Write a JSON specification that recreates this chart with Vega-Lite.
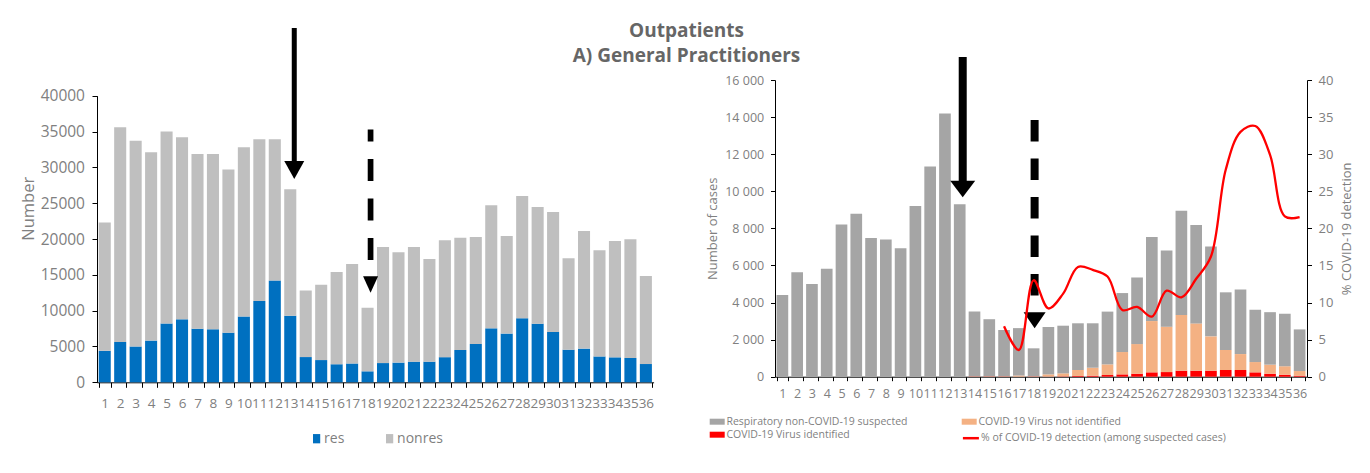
{
  "$schema": "https://vega.github.io/schema/vega-lite/v6.json",
  "padding": {"left": 20, "top": 22, "right": 5, "bottom": 5},
  "background": "white",
  "bounds": "flush",
  "spacing": 121,
  "title": {"text": ["Outpatients", "A) General Practitioners"], "fontSize": 19, "font": "Open Sans", "fontWeight": "bold", "color": "#666666", "lineHeight": 25, "offset": -41, "anchor": "middle"},
  "resolve": {"scale": {"color": "independent", "stroke": "independent"}, "legend": {"color": "independent", "stroke": "independent"}},
  "datasets": {
    "weeks": [
      {"week": 1, "res": 4400, "nonres": 17900, "identified": 0, "notIdentified": 0, "suspected": 4400},
      {"week": 2, "res": 5630, "nonres": 29970, "identified": 0, "notIdentified": 0, "suspected": 5630},
      {"week": 3, "res": 5000, "nonres": 28700, "identified": 0, "notIdentified": 0, "suspected": 5000},
      {"week": 4, "res": 5820, "nonres": 26280, "identified": 0, "notIdentified": 0, "suspected": 5820},
      {"week": 5, "res": 8210, "nonres": 26790, "identified": 0, "notIdentified": 0, "suspected": 8210},
      {"week": 6, "res": 8790, "nonres": 25410, "identified": 0, "notIdentified": 0, "suspected": 8790},
      {"week": 7, "res": 7480, "nonres": 24370, "identified": 0, "notIdentified": 0, "suspected": 7480},
      {"week": 8, "res": 7400, "nonres": 24450, "identified": 0, "notIdentified": 0, "suspected": 7400},
      {"week": 9, "res": 6930, "nonres": 22770, "identified": 0, "notIdentified": 0, "suspected": 6930},
      {"week": 10, "res": 9200, "nonres": 23600, "identified": 0, "notIdentified": 0, "suspected": 9200},
      {"week": 11, "res": 11330, "nonres": 22600, "identified": 0, "notIdentified": 0, "suspected": 11330},
      {"week": 12, "res": 14200, "nonres": 19730, "identified": 0, "notIdentified": 0, "suspected": 14200},
      {"week": 13, "res": 9300, "nonres": 17650, "identified": 0, "notIdentified": 0, "suspected": 9300},
      {"week": 14, "res": 3520, "nonres": 9280, "identified": 15, "notIdentified": 15, "suspected": 3490},
      {"week": 15, "res": 3100, "nonres": 10520, "identified": 15, "notIdentified": 15, "suspected": 3070},
      {"week": 16, "res": 2520, "nonres": 12880, "identified": 15, "notIdentified": 15, "suspected": 2490, "pct": 6.8},
      {"week": 17, "res": 2620, "nonres": 13880, "identified": 5, "notIdentified": 60, "suspected": 2555, "pct": 3.6},
      {"week": 18, "res": 1530, "nonres": 8890, "identified": 15, "notIdentified": 15, "suspected": 1500, "pct": 13.0},
      {"week": 19, "res": 2680, "nonres": 16200, "identified": 10, "notIdentified": 115, "suspected": 2555, "pct": 9.2},
      {"week": 20, "res": 2750, "nonres": 15390, "identified": 20, "notIdentified": 160, "suspected": 2570, "pct": 11.2},
      {"week": 21, "res": 2880, "nonres": 16000, "identified": 40, "notIdentified": 320, "suspected": 2520, "pct": 14.8},
      {"week": 22, "res": 2880, "nonres": 14320, "identified": 55, "notIdentified": 430, "suspected": 2395, "pct": 14.4},
      {"week": 23, "res": 3510, "nonres": 16310, "identified": 90, "notIdentified": 575, "suspected": 2845, "pct": 13.5},
      {"week": 24, "res": 4510, "nonres": 15680, "identified": 125, "notIdentified": 1205, "suspected": 3180, "pct": 9.0},
      {"week": 25, "res": 5350, "nonres": 14930, "identified": 160, "notIdentified": 1600, "suspected": 3590, "pct": 9.4},
      {"week": 26, "res": 7530, "nonres": 17170, "identified": 235, "notIdentified": 2765, "suspected": 4530, "pct": 8.1},
      {"week": 27, "res": 6800, "nonres": 13620, "identified": 250, "notIdentified": 2450, "suspected": 4100, "pct": 11.6},
      {"week": 28, "res": 8950, "nonres": 17050, "identified": 325, "notIdentified": 3005, "suspected": 5620, "pct": 10.7},
      {"week": 29, "res": 8180, "nonres": 16270, "identified": 325, "notIdentified": 2550, "suspected": 5305, "pct": 13.2},
      {"week": 30, "res": 7020, "nonres": 16750, "identified": 325, "notIdentified": 1850, "suspected": 4845, "pct": 16.2},
      {"week": 31, "res": 4550, "nonres": 12750, "identified": 360, "notIdentified": 1080, "suspected": 3110, "pct": 27.9},
      {"week": 32, "res": 4700, "nonres": 16400, "identified": 360, "notIdentified": 860, "suspected": 3480, "pct": 33.0},
      {"week": 33, "res": 3610, "nonres": 14810, "identified": 235, "notIdentified": 555, "suspected": 2820, "pct": 33.8},
      {"week": 34, "res": 3480, "nonres": 16240, "identified": 160, "notIdentified": 490, "suspected": 2830, "pct": 29.9},
      {"week": 35, "res": 3400, "nonres": 16560, "identified": 110, "notIdentified": 450, "suspected": 2840, "pct": 21.6},
      {"week": 36, "res": 2550, "nonres": 12290, "identified": 55, "notIdentified": 250, "suspected": 2245, "pct": 21.5}
    ]
  },
  "config": {
    "font": "Open Sans",
    "view": {"stroke": null},
    "axis": {"grid": false, "domainColor": "#000000", "tickColor": "#000000", "labelColor": "#808080", "titleColor": "#808080", "titleFontWeight": "normal", "labelFont": "Open Sans", "titleFont": "Open Sans"},
    "legend": {"labelColor": "#7f7f7f", "labelFont": "Open Sans"}
  },
  "hconcat": [
    {
      "width": 556.6,
      "height": 302.3,
      "layer": [
        {
          "data": {"name": "weeks"},
          "transform": [{"fold": ["res", "nonres"], "as": ["series", "count"]}],
          "mark": {"type": "bar"},
          "encoding": {
            "x": {"field": "week", "type": "ordinal", "title": null, "scale": {"paddingInner": 0.22, "paddingOuter": 0.11},
              "axis": {"title": null, "labelAngle": 0, "labelFontSize": 13.5, "labelOverlap": false, "tickBand": "extent", "tickSize": 5, "labelPadding": 9.5}},
            "y": {"field": "count", "type": "quantitative", "stack": "zero", "title": "Number",
              "scale": {"domain": [0, 40000], "range": [302.3, 15.7], "nice": false},
              "axis": {"values": [0, 5000, 10000, 15000, 20000, 25000, 30000, 35000, 40000], "format": "d", "labelOverlap": false, "labelFontSize": 15.5, "tickSize": 5, "labelPadding": 7.5, "titleFontSize": 16.5, "titleX": -61, "titleY": 128.3}},
            "color": {"field": "series", "type": "nominal", "scale": {"domain": ["res", "nonres"], "range": ["#0070c0", "#bfbfbf"]},
              "legend": {"orient": "none", "legendX": 212.6, "legendY": 351.7, "direction": "horizontal", "title": null, "symbolType": "M-0.78,-1L0.78,-1L0.78,1L-0.78,1Z", "symbolSize": 86, "labelFontSize": 14, "labelOffset": 0.5, "columnPadding": 38, "symbolStrokeWidth": 0}},
            "order": {"field": "series", "type": "nominal", "sort": "descending"}
          }
        },
        {
          "data": {"values": [{"week": 13, "top": 49450, "bottom": 30600}]},
          "mark": {"type": "rule", "color": "black", "strokeWidth": 5, "xOffset": 4},
          "encoding": {"x": {"field": "week", "type": "ordinal", "title": null},
            "y": {"field": "top", "type": "quantitative", "title": "Number", "axis": {"values": [0, 5000, 10000, 15000, 20000, 25000, 30000, 35000, 40000], "format": "d", "labelOverlap": false, "labelFontSize": 15.5, "tickSize": 5, "labelPadding": 7.5, "titleFontSize": 16.5, "titleX": -61, "titleY": 128.3}},
            "y2": {"field": "bottom"}}
        },
        {
          "data": {"values": [{"week": 13, "head": 29630}]},
          "mark": {"type": "point", "shape": "M-1,-0.9L1,-0.9L0,0.9Z", "size": 400, "filled": true, "color": "black", "opacity": 1, "xOffset": 4},
          "encoding": {"x": {"field": "week", "type": "ordinal", "title": null},
            "y": {"field": "head", "type": "quantitative", "title": "Number", "axis": {"values": [0, 5000, 10000, 15000, 20000, 25000, 30000, 35000, 40000], "format": "d", "labelOverlap": false, "labelFontSize": 15.5, "tickSize": 5, "labelPadding": 7.5, "titleFontSize": 16.5, "titleX": -61, "titleY": 128.3}}}
        },
        {
          "data": {"values": [{"week": 18, "top": 35300, "bottom": 14850}]},
          "mark": {"type": "rule", "color": "black", "strokeWidth": 5.7, "strokeDash": [22, 17.5], "strokeDashOffset": 10, "xOffset": 3},
          "encoding": {"x": {"field": "week", "type": "ordinal", "title": null},
            "y": {"field": "top", "type": "quantitative", "title": "Number", "axis": {"values": [0, 5000, 10000, 15000, 20000, 25000, 30000, 35000, 40000], "format": "d", "labelOverlap": false, "labelFontSize": 15.5, "tickSize": 5, "labelPadding": 7.5, "titleFontSize": 16.5, "titleX": -61, "titleY": 128.3}},
            "y2": {"field": "bottom"}}
        },
        {
          "data": {"values": [{"week": 18, "head": 13660}]},
          "mark": {"type": "point", "shape": "M-1,-1.1L1,-1.1L0,1.1Z", "size": 225, "filled": true, "color": "black", "opacity": 1, "xOffset": 3},
          "encoding": {"x": {"field": "week", "type": "ordinal", "title": null},
            "y": {"field": "head", "type": "quantitative", "title": "Number", "axis": {"values": [0, 5000, 10000, 15000, 20000, 25000, 30000, 35000, 40000], "format": "d", "labelOverlap": false, "labelFontSize": 15.5, "tickSize": 5, "labelPadding": 7.5, "titleFontSize": 16.5, "titleX": -61, "titleY": 128.3}}}
        }
      ]
    },
    {
      "width": 532,
      "height": 296.7,
      "resolve": {"scale": {"y": "independent"}},
      "layer": [
        {
          "layer": [
            {
              "data": {"name": "weeks"},
              "transform": [{"fold": ["identified", "notIdentified", "suspected"], "as": ["series", "count"]}],
              "mark": {"type": "bar"},
              "encoding": {
                "x": {"field": "week", "type": "ordinal", "title": null, "scale": {"paddingInner": 0.21, "paddingOuter": 0.105},
                  "axis": {"title": null, "labelAngle": 0, "labelFontSize": 12.5, "labelOverlap": false, "tickBand": "extent", "tickSize": 4, "labelPadding": 6.6}},
                "y": {"field": "count", "type": "quantitative", "stack": "zero", "title": "Number of cases",
                  "scale": {"domain": [0, 16000], "nice": false},
                  "axis": {"values": [0, 2000, 4000, 6000, 8000, 10000, 12000, 14000, 16000], "labelOverlap": false, "labelExpr": "replace(format(datum.value, ','), ',', ' ')", "labelFontSize": 12.5, "tickSize": 4.5, "labelPadding": 6.8, "titleFontSize": 13, "titleX": -56}},
                "color": {"field": "series", "type": "nominal", "scale": {"domain": ["suspected", "identified", "notIdentified"], "range": ["#a5a5a5", "#ff0000", "#f4b183"]},
                  "legend": {"orient": "none", "legendX": -65.3, "legendY": 334.2, "columns": 2, "title": null, "symbolType": "M-1,-0.4L1,-0.4L1,0.4L-1,0.4Z", "symbolSize": 225, "labelFontSize": 10.5, "labelOffset": 1.7, "columnPadding": 54, "rowPadding": 0, "labelLimit": 400, "symbolStrokeWidth": 0,
                    "labelExpr": "datum.label == 'suspected' ? 'Respiratory non-COVID-19 suspected' : datum.label == 'notIdentified' ? 'COVID-19 Virus not identified' : 'COVID-19 Virus identified'"}},
                "order": {"field": "series", "type": "nominal", "sort": "ascending"}
              }
            },
            {
              "data": {"values": [{"week": 13, "top": 17240, "bottom": 10390}]},
              "mark": {"type": "rule", "color": "black", "strokeWidth": 8, "xOffset": 3},
              "encoding": {"x": {"field": "week", "type": "ordinal", "title": null},
                "y": {"field": "top", "type": "quantitative", "title": "Number of cases", "axis": {"values": [0, 2000, 4000, 6000, 8000, 10000, 12000, 14000, 16000], "labelOverlap": false, "labelExpr": "replace(format(datum.value, ','), ',', ' ')", "labelFontSize": 12.5, "tickSize": 4.5, "labelPadding": 6.8, "titleFontSize": 13, "titleX": -56}},
                "y2": {"field": "bottom"}}
            },
            {
              "data": {"values": [{"week": 13, "head": 10120}]},
              "mark": {"type": "point", "shape": "M-1,-0.66L1,-0.66L0,0.66Z", "size": 625, "filled": true, "color": "black", "opacity": 1, "xOffset": 3},
              "encoding": {"x": {"field": "week", "type": "ordinal", "title": null},
                "y": {"field": "head", "type": "quantitative", "title": "Number of cases", "axis": {"values": [0, 2000, 4000, 6000, 8000, 10000, 12000, 14000, 16000], "labelOverlap": false, "labelExpr": "replace(format(datum.value, ','), ',', ' ')", "labelFontSize": 12.5, "tickSize": 4.5, "labelPadding": 6.8, "titleFontSize": 13, "titleX": -56}}}
            },
            {
              "data": {"values": [{"week": 18, "top": 13840, "bottom": 3480}]},
              "mark": {"type": "rule", "color": "black", "strokeWidth": 8, "strokeDash": [21.5, 17], "xOffset": 1},
              "encoding": {"x": {"field": "week", "type": "ordinal", "title": null},
                "y": {"field": "top", "type": "quantitative", "title": "Number of cases", "axis": {"values": [0, 2000, 4000, 6000, 8000, 10000, 12000, 14000, 16000], "labelOverlap": false, "labelExpr": "replace(format(datum.value, ','), ',', ' ')", "labelFontSize": 12.5, "tickSize": 4.5, "labelPadding": 6.8, "titleFontSize": 13, "titleX": -56}},
                "y2": {"field": "bottom"}}
            },
            {
              "data": {"values": [{"week": 18, "head": 3040}]},
              "mark": {"type": "point", "shape": "M-1,-0.73L1,-0.73L0,0.73Z", "size": 484, "filled": true, "color": "black", "opacity": 1, "xOffset": 1},
              "encoding": {"x": {"field": "week", "type": "ordinal", "title": null},
                "y": {"field": "head", "type": "quantitative", "title": "Number of cases", "axis": {"values": [0, 2000, 4000, 6000, 8000, 10000, 12000, 14000, 16000], "labelOverlap": false, "labelExpr": "replace(format(datum.value, ','), ',', ' ')", "labelFontSize": 12.5, "tickSize": 4.5, "labelPadding": 6.8, "titleFontSize": 13, "titleX": -56}}}
            }
          ]
        },
        {
          "data": {"name": "weeks"},
          "transform": [{"filter": "isValid(datum.pct)"}],
          "mark": {"type": "line", "interpolate": "catmull-rom", "strokeWidth": 2.3},
          "encoding": {
            "x": {"field": "week", "type": "ordinal", "title": null},
            "y": {"field": "pct", "type": "quantitative", "title": "% COVID-19 detection",
              "scale": {"domain": [0, 40], "nice": false},
              "axis": {"orient": "right", "values": [0, 5, 10, 15, 20, 25, 30, 35, 40], "format": "d", "labelOverlap": false, "labelFontSize": 13, "tickSize": 4.5, "labelPadding": 6.5, "titleFontSize": 13, "titleAngle": -90, "titleBaseline": "top", "titleX": 33}},
            "stroke": {"datum": "% of COVID-19 detection (among suspected cases)", "scale": {"range": ["#ff0000"]},
              "legend": {"orient": "none", "legendX": 186.4, "legendY": 348.7, "title": null, "symbolType": "stroke", "symbolSize": 256, "symbolStrokeWidth": 2.5, "labelFontSize": 10.5, "labelOffset": 0.6, "labelLimit": 400}}
          }
        }
      ]
    }
  ]
}
